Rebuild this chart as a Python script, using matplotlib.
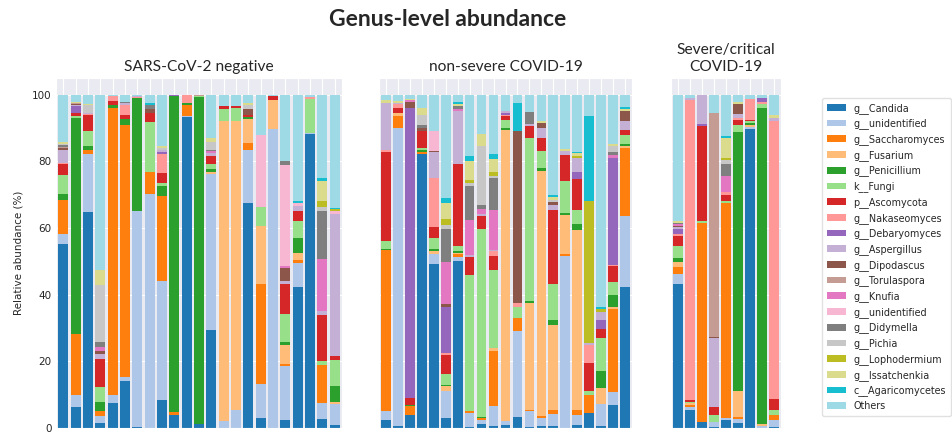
import numpy as np
import matplotlib
matplotlib.use("Agg")
import matplotlib.pyplot as plt
import seaborn as sns

TAXA = [
    "g__Candida", "g__unidentified", "g__Saccharomyces", "g__Fusarium",
    "g__Penicillium", "k__Fungi", "p__Ascomycota", "g__Nakaseomyces",
    "g__Debaryomyces", "g__Aspergillus", "g__Dipodascus", "g__Torulaspora",
    "g__Knufia", "g__unidentified", "g__Didymella", "g__Pichia",
    "g__Lophodermium", "g__Issatchenkia", "c__Agaricomycetes", "Others",
]

GROUPS = ["SARS-CoV-2 negative", "non-severe COVID-19", "Severe/critical\nCOVID-19"]

# one row per sample, columns follow TAXA (relative abundance, %)
NEGATIVE = [
    [55.2, 3.1, 10.1, 0, 1.8, 5.8, 3.2, 0.3, 0, 4.0, 0.4, 0.5, 0, 0, 0.5, 0.4, 0, 0.5, 0, 14.2],
    [6.2, 3.8, 18.2, 0, 64.8, 0.5, 1.0, 0, 2.0, 0.3, 0.4, 0.3, 0, 0, 0, 0, 0, 0.2, 0, 2.3],
    [64.8, 17.4, 1.3, 0, 1.2, 4.3, 5.0, 0.3, 0, 0.2, 0, 0, 0, 0, 0, 2.3, 0, 0.4, 0, 2.8],
    [1.5, 2.0, 1.7, 0, 2.6, 4.5, 8.5, 0, 0, 1.4, 1.0, 0, 1.2, 0, 1.3, 17.3, 0, 4.5, 0, 52.5],
    [7.5, 2.5, 86.0, 0, 1.0, 0, 1.0, 1.5, 0, 0, 0, 0, 0, 0, 0, 0, 0, 0, 0, 0.5],
    [14.0, 1.3, 75.7, 0, 1.7, 0, 1.1, 3.2, 0, 0.5, 0, 0, 0, 0, 0.3, 0, 0, 0, 0, 2.2],
    [0.3, 64.9, 0, 0, 33.8, 0, 0, 0.3, 0, 0.2, 0, 0, 0, 0, 0, 0, 0, 0, 0, 0.5],
    [0, 70.3, 6.5, 0, 0, 14.9, 2.8, 0, 0, 0, 1.3, 0, 0, 0, 1.2, 0, 0, 0, 0.5, 2.5],
    [8.5, 35.7, 25.3, 0, 3.0, 1.0, 3.0, 5.7, 0.5, 0.8, 0, 0, 0, 0, 0, 0.5, 0, 0.5, 0, 15.5],
    [3.8, 0, 1.0, 0, 94.7, 0, 0, 0, 0.3, 0, 0, 0, 0, 0, 0, 0, 0, 0, 0, 0.2],
    [93.2, 0.3, 3.3, 0, 0.7, 0, 0, 2.3, 0, 0, 0, 0, 0, 0, 0, 0, 0, 0, 0, 0.2],
    [1.2, 0, 0, 0, 98.0, 0.3, 0, 0, 0, 0, 0, 0.3, 0, 0, 0, 0, 0, 0, 0, 0.2],
    [29.5, 46.8, 0, 0.5, 1.0, 1.5, 2.2, 0, 0, 1.0, 0, 0, 0.5, 0, 0.5, 2.3, 0, 1.2, 0, 13.0],
    [0, 2.0, 0, 90.0, 0, 3.8, 0.9, 0, 0, 0, 0, 0, 0, 0, 0, 0, 0, 0, 0, 3.3],
    [0, 5.5, 0, 86.5, 0, 4.0, 0.7, 0, 0, 0, 0, 0, 0, 0, 0, 0, 0, 0, 0, 3.3],
    [67.5, 15.8, 2.2, 7.2, 0.5, 0, 0.8, 0, 0, 0, 1.7, 0, 0, 0, 0, 1.3, 0, 0.5, 0, 2.5],
    [3.0, 10.3, 29.9, 17.3, 0, 5.8, 0, 0, 0, 0, 0, 0, 0, 21.7, 0, 0, 0, 0, 0, 12.0],
    [0, 89.7, 0, 8.8, 0, 0, 1.0, 0, 0, 0, 0, 0, 0, 0, 0, 0, 0, 0, 0, 0.5],
    [2.5, 16.2, 0.5, 5.8, 0.8, 8.4, 9.0, 0, 0, 0.8, 4.0, 0, 0.7, 30.1, 1.4, 0, 0, 0, 0, 19.8],
    [42.3, 7.2, 1.0, 2.0, 4.5, 5.0, 3.0, 0, 0, 1.5, 0, 0, 0, 1.0, 0, 0, 0, 0, 0.7, 31.8],
    [88.2, 0.3, 0, 0, 0, 10.3, 0, 0.5, 0, 0, 0, 0, 0, 0, 0, 0, 0, 0, 0, 0.7],
    [2.8, 4.7, 11.5, 0, 0, 1.0, 14.0, 0, 0, 1.0, 0, 0, 15.8, 0, 14.4, 1.0, 2.0, 5.8, 1.0, 25.0],
    [0.8, 6.4, 0, 0.6, 4.7, 7.8, 1.4, 0, 0, 42.5, 0, 0, 0, 1.0, 0, 0, 0.4, 0, 0.4, 34.0],
]

NON_SEVERE = [
    [2.5, 2.5, 48.3, 0, 0.4, 2.3, 26.7, 0.8, 0, 14.0, 0, 0, 0, 0, 0, 0, 0, 1.0, 0, 1.5],
    [0.5, 89.5, 3.7, 0.8, 0, 0, 1.5, 1.2, 0, 0.4, 0, 0, 0, 0, 0, 0, 0, 0.4, 0, 2.0],
    [4.0, 0, 2.5, 0, 0.3, 0, 2.2, 0, 87.0, 0, 1.8, 0, 0.5, 0, 0, 0, 0, 0.5, 0, 1.2],
    [82.2, 0, 0.5, 0, 0.6, 0.7, 5.0, 0, 0, 0, 1.0, 0, 0, 0, 1.0, 3.0, 0, 2.0, 0, 4.0],
    [49.3, 2.9, 0, 1.0, 0.5, 3.3, 3.3, 14.7, 0, 7.7, 0.5, 0, 0, 5.8, 0, 0, 0, 0, 0, 11.0],
    [3.0, 8.0, 0, 1.5, 0.5, 3.2, 5.7, 0.5, 13.8, 0, 1.0, 0, 12.7, 0, 9.8, 1.3, 1.7, 4.7, 1.5, 31.1],
    [50.0, 1.2, 1.0, 0.3, 0.5, 1.5, 24.8, 0, 0, 15.9, 0, 0, 0.5, 0, 0.8, 0, 0, 0.7, 0.6, 2.2],
    [0.3, 4.2, 0.7, 0, 0, 40.6, 5.4, 0, 0, 0.6, 0, 0, 10.7, 0, 10.0, 1.0, 1.0, 5.7, 1.5, 18.3],
    [1.2, 1.3, 0.5, 0, 0.3, 56.5, 3.7, 0, 0, 0.8, 0, 0, 1.5, 0, 1.2, 17.7, 0, 3.5, 0, 11.8],
    [0.5, 6.0, 16.5, 1.0, 0, 23.3, 4.4, 1.3, 0, 0.5, 0, 0, 12.0, 0, 9.5, 0.7, 1.1, 4.0, 1.5, 17.7],
    [0.8, 1.2, 0, 87.5, 0.5, 2.5, 1.2, 0.3, 0.5, 0.5, 0, 0, 0, 0, 0, 0, 0, 0, 0, 5.0],
    [3.3, 25.7, 4.0, 0, 0, 3.3, 0, 1.2, 0, 0, 51.5, 0, 0, 0, 0, 0, 0, 0, 8.5, 2.5],
    [0.3, 4.7, 0.5, 32.0, 0.7, 48.8, 3.5, 0, 0, 0.8, 0, 0, 0, 0, 3.5, 0, 0, 0, 0, 5.2],
    [0.5, 2.5, 0.7, 73.5, 0.8, 5.0, 4.0, 0, 0, 3.0, 1.5, 0, 0, 0, 0, 0, 0, 0.5, 0, 8.0],
    [0.7, 3.5, 1.3, 25.5, 1.5, 10.7, 22.3, 0, 0, 1.5, 0.7, 0, 0, 0, 0, 0.8, 0, 0.7, 0.8, 30.0],
    [0, 51.5, 0.7, 11.8, 0.5, 9.5, 8.0, 0, 0, 1.0, 0, 0, 0, 0, 0, 0, 0, 0.7, 0, 16.3],
    [0.8, 3.0, 1.7, 53.8, 1.9, 4.1, 9.4, 0, 2.1, 4.2, 0, 0, 0, 0, 0, 0, 0.7, 0.8, 0.3, 17.2],
    [4.5, 0, 5.5, 0, 0, 1.0, 8.5, 5.5, 0, 0.5, 0, 0, 0, 0, 0, 0, 42.5, 0, 25.7, 6.3],
    [0.5, 6.7, 0, 4.8, 5.2, 9.8, 2.8, 0, 2.7, 2.2, 0, 0, 0, 0, 0, 0, 1.1, 0, 0.4, 63.8],
    [7.0, 3.7, 25.1, 0.4, 3.8, 3.8, 4.7, 0.5, 32.0, 0, 0, 0, 1.0, 0, 0.7, 1.8, 0, 0.7, 0, 14.8],
    [42.2, 21.5, 20.3, 0.7, 0.5, 2.8, 1.5, 0, 0, 2.7, 2.8, 0, 0, 0, 0, 0, 0, 0.8, 0.4, 3.8],
]

SEVERE = [
    [43.3, 3.0, 2.0, 1.5, 1.2, 3.7, 3.0, 0.6, 1.5, 0.5, 0.4, 0, 0.4, 0, 0.4, 0, 0, 0.7, 0, 37.8],
    [5.3, 0.9, 0.8, 0.5, 0, 0.3, 0.7, 90.0, 0, 0.5, 0, 0, 0, 0, 0, 0, 0, 0, 0, 1.0],
    [1.7, 0, 59.8, 0, 0, 0.5, 28.7, 0, 0.5, 8.8, 0, 0, 0, 0, 0, 0, 0, 0, 0, 0],
    [0.3, 1.5, 0, 0, 0, 2.2, 2.2, 0, 0, 20.8, 0.3, 67.2, 0, 0, 0, 0, 0, 0, 0, 5.5],
    [2.5, 0.5, 64.5, 0, 0, 0.5, 2.0, 0.7, 0, 0, 0, 0, 5.0, 0, 3.5, 1.3, 0.5, 6.0, 0.5, 12.5],
    [1.5, 1.2, 0.5, 7.8, 77.7, 2.3, 1.3, 0.7, 0, 1.2, 3.0, 0, 0, 0, 0, 0, 0, 0.5, 0, 2.3],
    [89.7, 0.6, 0, 0.7, 0.5, 0.5, 0.5, 6.3, 0, 0, 0, 0, 0, 0, 0, 0, 0, 0, 0, 1.2],
    [0, 0.5, 0, 0.7, 94.8, 1.3, 0, 0.5, 1.2, 0, 0, 0, 0, 0, 0, 0, 0, 0, 0, 1.0],
    [0.3, 2.2, 1.5, 0, 0, 1.5, 3.3, 83.2, 0, 1.0, 0, 0, 0, 0, 0, 0, 0, 1.0, 0, 6.0],
]

Y_TICKS = [0, 20, 40, 60, 80, 100]

sns.set_style("darkgrid")
colors = plt.get_cmap("tab20").colors

W, H = 952, 433
fig = plt.figure(figsize=(W / 100, H / 100), dpi=100)

# panel extents in pixels (left, right); shared top/bottom
panel_px = [(56, 342), (379, 632), (671, 781)]
top_px, bottom_px = 78, 428

handles = []
for i, (rows, title) in enumerate(zip([NEGATIVE, NON_SEVERE, SEVERE], GROUPS)):
    left, right = panel_px[i]
    ax = fig.add_axes([left / W, 1 - bottom_px / H,
                       (right - left) / W, (bottom_px - top_px) / H])
    data = np.array(rows, dtype=float).T
    n = data.shape[1]
    x = np.arange(n)
    base = np.zeros(n)
    for k, name in enumerate(TAXA):
        bars = ax.bar(x, data[k], 0.8, bottom=base, color=colors[k],
                      linewidth=0, label=name)
        base += data[k]
        if i == 0:
            handles.append(bars)
    ax.set_xlim(-0.6, n - 0.4)
    ax.set_ylim(0, 105)
    ax.set_xticks(x)
    ax.set_xticklabels([])
    ax.set_yticks(Y_TICKS)
    ax.tick_params(length=0, labelsize=7.5, pad=3)
    if i == 0:
        ax.set_ylabel("Relative abundance (%)", fontsize=7.5, labelpad=6)
    else:
        ax.set_yticklabels([])
    ax.set_title(title, fontsize=11.2, family="Lato", pad=5, linespacing=1.25)

fig.legend(handles, TAXA, loc="upper left",
           bbox_to_anchor=(822 / W, 1 - 98 / H), borderaxespad=0,
           fontsize=6.9, frameon=True, facecolor="white", edgecolor="0.85",
           handlelength=2.0, handletextpad=0.8, borderpad=0.5,
           labelspacing=0.5)

fig.text(448 / W, 1 - 20 / H, "Genus-level abundance", ha="center",
         va="center", fontsize=16.5, fontweight="bold", family="Lato")

fig.savefig("out.png", dpi=100)
